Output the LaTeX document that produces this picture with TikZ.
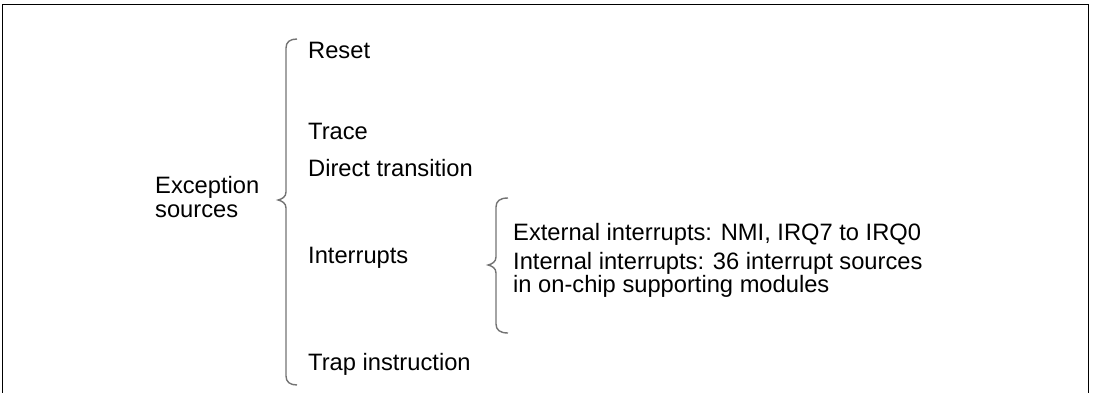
\documentclass[tikz,border=0pt]{standalone}
\usepackage{fontspec}
\setmainfont{Liberation Sans}
\begin{document}
\begin{tikzpicture}[x=1pt,y=-1pt,
  lbl/.style={anchor=base west,inner sep=0pt,font=\fontsize{23.7}{26}\selectfont},
  brace/.style={draw=black!55,line width=1.4pt},
  frame/.style={draw=black,line width=1.6pt}]
\useasboundingbox (0,0) rectangle (1098,393);
\draw[frame] (2.5,394) -- (2.5,4.5) -- (1088.5,4.5) -- (1088.5,394);
% labels (multi-line nodes: base = last line)
\node[lbl,align=left,font=\fontsize{23.7}{24}\selectfont] (exc) at (155,217) {Exception\\sources};
\node[lbl] (reset) at (308,59) {Reset};
\node[lbl] (trace) at (308,140) {Trace};
\node[lbl] (direct) at (308,177) {Direct transition};
\node[lbl] (intr) at (308,263) {Interrupts};
\node[lbl] (trap) at (308,370) {Trap instruction};
\node[lbl] (ext) at (513,240) {External interrupts: NMI, IRQ7 to IRQ0};
\node[lbl,align=left,font=\fontsize{23.7}{21.5}\selectfont] (int) at (513,292.5) {Internal interrupts: 36 interrupt sources\\in on-chip supporting modules};
% big brace
\coordinate (b1t) at (297,39);
\coordinate (b1m) at (278,200);
\coordinate (b1b) at (297,385);
\draw[brace] (b1t) .. controls (290,39) and (286,42) .. (286,48) -- (286,192)
  .. controls (286,197) and (282,199) .. (b1m)
  .. controls (282,201) and (286,203) .. (286,208) -- (286,376)
  .. controls (286,382) and (290,385) .. (b1b);
% small brace
\coordinate (b2t) at (508,198);
\coordinate (b2m) at (488,265);
\coordinate (b2b) at (508,333);
\draw[brace] (b2t) .. controls (500,198) and (496,201) .. (496,207) -- (496,257)
  .. controls (496,262) and (492,264) .. (b2m)
  .. controls (492,266) and (496,268) .. (496,273) -- (496,324)
  .. controls (496,330) and (500,333) .. (b2b);
\end{tikzpicture}
\end{document}
